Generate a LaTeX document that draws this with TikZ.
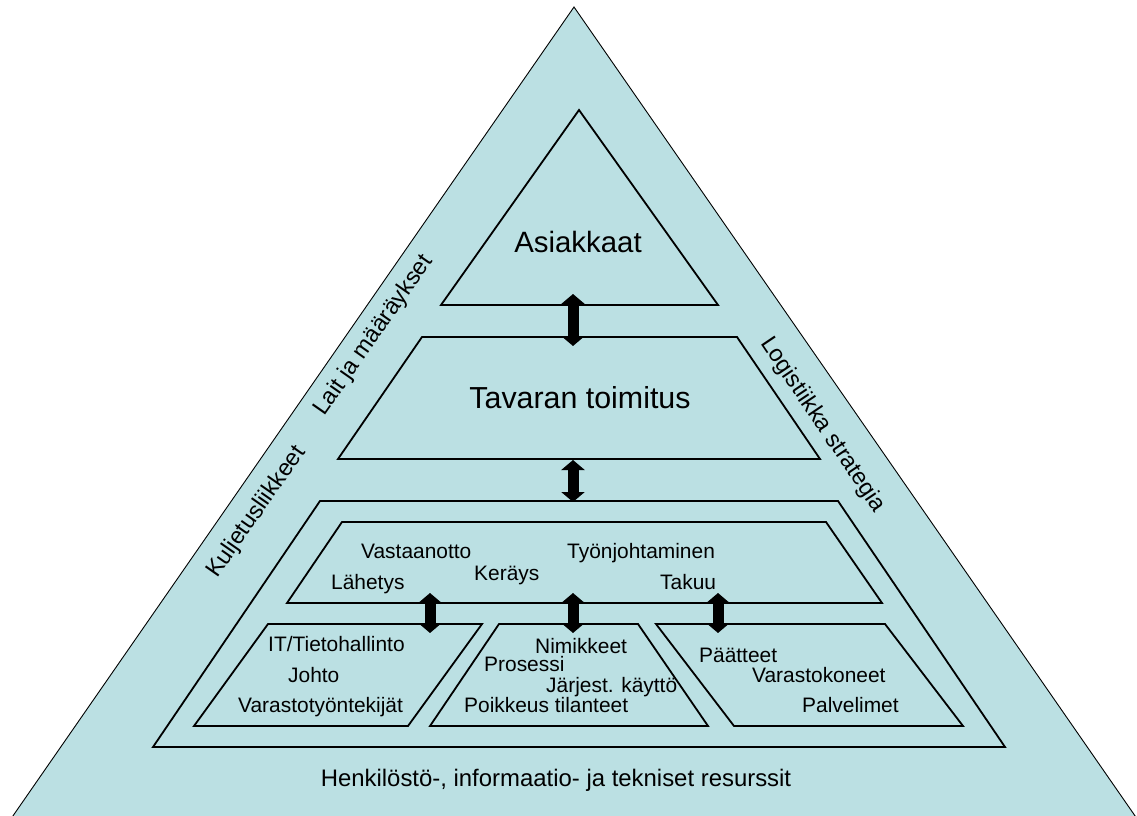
\documentclass[tikz,border=0pt]{standalone}
\usepackage{fontspec}
\setmainfont{Liberation Sans}
\usetikzlibrary{arrows.meta}
\definecolor{pyrfill}{RGB}{187,224,227}
\begin{document}
\begin{tikzpicture}[x=1bp,y=-1bp,
  outline/.style={draw=black,fill=pyrfill,line width=0.9bp},
  layer/.style={draw=black,fill=pyrfill,line width=1.8bp,line join=miter},
  link/.style={line width=11bp,{Triangle[length=10bp,width=23bp]}-{Triangle[length=10bp,width=23bp]}},
  big/.style={inner sep=0pt,anchor=base},
  side/.style={font=\fontsize{23.5}{25}\selectfont,inner sep=0pt,anchor=base west},
  item/.style={font=\fontsize{21}{23}\selectfont,anchor=base west,inner sep=0pt},
]
\useasboundingbox (0,0) rectangle (1137,816);

% outer pyramid
\path[outline] (574,7) -- (1149,836) -- (-1,836) -- cycle;

% customers
\path[layer] (579,110) -- (718,305) -- (441,305) -- cycle;
\node[big,font=\fontsize{29.5}{32}\selectfont] (asiakkaat) at (578,252) {Asiakkaat};

% delivery of goods
\path[layer] (422,337) -- (737,337) -- (820,459) -- (338,459) -- cycle;
\node[big,font=\fontsize{30.5}{33}\selectfont] (toimitus) at (580,408) {Tavaran toimitus};

% warehouse frame
\path[layer] (320,501) -- (838,501) -- (1005,747) -- (153,747) -- cycle;

% warehouse functions
\path[layer] (342,522) -- (826,522) -- (882,603) -- (287,603) -- cycle;
\node[item] (vast) at (361,558) {Vastaanotto};
\node[item] (lah)  at (331,589) {Lähetys};
\node[item] (ker)  at (474,580) {Keräys};
\node[item] (tyo)  at (567,558) {Työnjohtaminen};
\node[item] (tak)  at (660,589) {Takuu};

% resources
\path[layer] (268,624) -- (482,624) -- (408,726) -- (194,726) -- cycle;
\path[layer] (499,624) -- (638,624) -- (708,726) -- (430,726) -- cycle;
\path[layer] (656,624) -- (885,624) -- (963,726) -- (734,726) -- cycle;

\node[item] (it)   at (268,651) {IT/Tietohallinto};
\node[item] (joh)  at (288,682) {Johto};
\node[item] (vtt)  at (238,712) {Varastotyöntekijät};
\node[item] (nim)  at (535,653) {Nimikkeet};
\node[item] (pro)  at (484,671) {Prosessi};
\node[item] (jar)  at (546,692) {Järjest. käyttö};
\node[item] (poi)  at (464,712) {Poikkeus tilanteet};
\node[item] (paa)  at (699,662) {Päätteet};
\node[item] (vko)  at (752,682) {Varastokoneet};
\node[item] (pal)  at (802,712) {Palvelimet};

% side labels, parallel to the pyramid's sides
\node[side,rotate=55]  (lait) at (324,417) {Lait ja määräykset};
\node[side,rotate=55]  (kulj) at (217,579) {Kuljetusliikkeet};
\node[side,rotate=-56] (logi) at (760,343) {Logistiikka strategia};
\node[font=\fontsize{24}{26}\selectfont,anchor=base,inner sep=0pt] (henk) at (556,786)
  {Henkilöstö-, informaatio- ja tekniset resurssit};

% arrow end points
\coordinate (a1t) at (573,294); \coordinate (a1b) at (573,346);
\coordinate (a2t) at (573,460); \coordinate (a2b) at (573,502);
\coordinate (b1t) at (430,593); \coordinate (b1b) at (430,633);
\coordinate (b2t) at (573,593); \coordinate (b2b) at (573,633);
\coordinate (b3t) at (718,593); \coordinate (b3b) at (718,633);

\draw[link] (a1t) -- (a1b);
\draw[link] (a2t) -- (a2b);
\draw[link] (b1t) -- (b1b);
\draw[link] (b2t) -- (b2b);
\draw[link] (b3t) -- (b3b);
\end{tikzpicture}
\end{document}
